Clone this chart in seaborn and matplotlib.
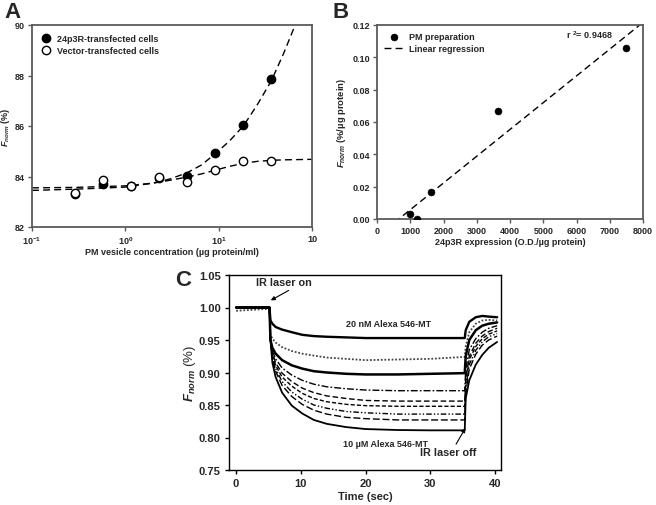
import numpy as np
import pandas as pd
import matplotlib
matplotlib.use("Agg")
import matplotlib.pyplot as plt
import seaborn as sns

# ---------------- data: panel A ----------------
conc = [0.29, 0.575, 1.15, 2.3, 4.6, 9.2, 18.4, 36.8]
f_24p3r = [83.29, 83.72, 83.62, 83.95, 84.02, 84.94, 86.03, 87.85]
f_vector = [83.36, 83.85, 83.62, 83.99, 83.78, 84.24, 84.63, 84.61]
fit24_x = [0.1, 0.3, 1, 2, 3, 4.6, 6.5, 9.2, 13, 18.4, 26, 36.8, 50, 66]
fit24_y = [83.45, 83.5, 83.58, 83.74, 83.9, 84.15, 84.45, 84.9, 85.4, 86.0, 86.85, 87.8, 88.9, 90.0]
fitvec_x = [0.1, 0.3, 1, 2, 3, 4.6, 6.5, 9.2, 13, 18.4, 26, 36.8, 50, 100]
fitvec_y = [83.55, 83.57, 83.63, 83.74, 83.85, 83.98, 84.1, 84.25, 84.4, 84.52, 84.6, 84.64, 84.66, 84.68]
xtickA = [0.1, 1, 10, 100]
xtickA_lab = [r'$\mathbf{10^{-1}}$', r'$\mathbf{10^{0}}$', r'$\mathbf{10^{1}}$', '10']

# ---------------- data: panel B ----------------
expr = [1000, 1210, 1610, 3630, 7480]
f_per_prot = [0.003, 0.000, 0.017, 0.067, 0.106]

# ---------------- data: panel C ----------------
t = [0, 5.15, 5.3, 5.6, 6.1, 7.1, 8.6, 10.2, 12, 14, 17, 20, 25, 30, 35.3,
     35.45, 36, 37, 38, 39, 40.3]
tr_20nM = [1.0, 1.0, 0.98, 0.975, 0.970, 0.966, 0.962, 0.958, 0.956, 0.955, 0.954, 0.953, 0.953, 0.953, 0.953,
           0.965, 0.978, 0.985, 0.987, 0.986, 0.985]
tr_2 = [0.995, 0.998, 0.958, 0.952, 0.946, 0.939, 0.933, 0.929, 0.926, 0.923, 0.921, 0.919, 0.920, 0.921, 0.924,
        0.940, 0.962, 0.975, 0.980, 0.981, 0.980]
tr_3 = [1.0, 1.0, 0.95, 0.938, 0.929, 0.919, 0.911, 0.906, 0.902, 0.900, 0.898, 0.897, 0.897, 0.898, 0.899,
        0.925, 0.950, 0.965, 0.972, 0.975, 0.977]
tr_4 = [1.0, 1.0, 0.95, 0.933, 0.921, 0.907, 0.896, 0.888, 0.882, 0.878, 0.875, 0.873, 0.872, 0.872, 0.872,
        0.905, 0.935, 0.952, 0.962, 0.968, 0.972]
tr_5 = [1.0, 1.0, 0.95, 0.930, 0.915, 0.899, 0.886, 0.876, 0.869, 0.864, 0.860, 0.857, 0.856, 0.856, 0.856,
        0.890, 0.925, 0.945, 0.956, 0.963, 0.968]
tr_6 = [1.0, 1.0, 0.95, 0.927, 0.911, 0.893, 0.879, 0.868, 0.860, 0.855, 0.851, 0.849, 0.848, 0.848, 0.848,
        0.885, 0.920, 0.940, 0.952, 0.959, 0.964]
tr_7 = [1.0, 1.0, 0.95, 0.924, 0.906, 0.886, 0.870, 0.859, 0.850, 0.845, 0.840, 0.838, 0.836, 0.836, 0.836,
        0.875, 0.912, 0.934, 0.947, 0.955, 0.960]
tr_8 = [1.0, 1.0, 0.95, 0.921, 0.902, 0.880, 0.863, 0.851, 0.842, 0.836, 0.831, 0.829, 0.827, 0.827, 0.827,
        0.868, 0.905, 0.928, 0.942, 0.950, 0.956]
tr_10uM = [1.0, 1.0, 0.95, 0.915, 0.893, 0.869, 0.849, 0.837, 0.827, 0.821, 0.816, 0.813, 0.8115, 0.811, 0.811,
           0.860, 0.888, 0.912, 0.927, 0.938, 0.947]

# ---------------- style ----------------
sns.set_theme(style="ticks")
plt.rcParams['font.family'] = ['Liberation Sans', 'DejaVu Sans']
plt.rcParams['font.weight'] = 'bold'
plt.rcParams['mathtext.fontset'] = 'custom'
plt.rcParams['mathtext.rm'] = 'Liberation Sans:bold'
plt.rcParams['mathtext.bf'] = 'Liberation Sans:bold'
plt.rcParams['mathtext.it'] = 'Liberation Sans:italic:bold'

W, H = 656, 506
fig = plt.figure(figsize=(W / 100, H / 100), dpi=100)


def px_axes(l, t_, r, b):
    return fig.add_axes([l / W, 1 - b / H, (r - l) / W, (b - t_) / H])


GRAY = '#5a5a5a'

# ================= Panel A =================
axA = px_axes(32, 26, 312, 228)
sns.lineplot(x=fit24_x, y=fit24_y, ax=axA, color='black', lw=1.0, linestyle=(0, (5, 3)))
sns.lineplot(x=fitvec_x, y=fitvec_y, ax=axA, color='black', lw=1.0, linestyle=(0, (5, 3)))
axA.plot(conc, f_24p3r, 'o', ms=6, mfc='black', mec='black', label='24p3R-transfected cells', zorder=3)
axA.plot(conc, f_vector, 'o', ms=6, mfc='white', mec='black', mew=1.0, label='Vector-transfected cells', zorder=4)
axA.set_xscale('log')
axA.set_xlim(0.1, 100)
axA.set_ylim(82, 90)
axA.set_xticks(xtickA)
axA.set_xticklabels(xtickA_lab)
axA.xaxis.set_minor_locator(matplotlib.ticker.NullLocator())
axA.set_yticks([82, 84, 86, 88, 90])
axA.set_xlabel('PM vesicle concentration (µg protein/ml)', fontsize=6.5, fontweight='bold', labelpad=1)
axA.set_ylabel(r'$F_{norm}$ (%)', fontsize=6.5, fontweight='bold')
axA.yaxis.set_label_coords(-0.072, 0.5)
axA.legend(loc='upper left', bbox_to_anchor=(0.0, 1.0), frameon=False, fontsize=6.5,
           handletextpad=0.6, borderaxespad=0.6, labelspacing=0.35, handlelength=1.2)

# ================= Panel B =================
axB = px_axes(377, 26, 643, 220)
axB.set_xlim(0, 8000)
axB.set_ylim(0, 0.12)
sns.regplot(x=expr, y=f_per_prot, ax=axB, scatter=False, ci=None, truncate=False,
            line_kws=dict(color='black', lw=1.0, linestyle=(0, (5, 3))))
axB.lines[-1].set_label('Linear regression')
sns.scatterplot(x=expr, y=f_per_prot, ax=axB, color='black', s=25, edgecolor='black',
                label='PM preparation', zorder=3)
axB.set_xlim(0, 8000)
axB.set_ylim(0, 0.12)
axB.set_xticks(range(0, 8001, 1000))
axB.set_yticks([0, 0.02, 0.04, 0.06, 0.08, 0.10, 0.12])
axB.yaxis.set_major_formatter(matplotlib.ticker.FormatStrFormatter('%.2f'))
axB.set_xlabel('24p3R expression (O.D./µg protein)', fontsize=6.5, fontweight='bold', labelpad=1.5)
axB.set_ylabel(r'$F_{norm}$ (%/µg protein)', fontsize=6.8, fontweight='bold', labelpad=3)
h, l = axB.get_legend_handles_labels()
order = [l.index('PM preparation'), l.index('Linear regression')]
axB.legend([h[i] for i in order], [l[i] for i in order], loc='upper left', frameon=False,
           fontsize=6.5, handletextpad=0.6, borderaxespad=0.4, labelspacing=0.35, handlelength=2.2)
axB.text(0.80, 0.952, r'r $^2$= 0.9468', transform=axB.transAxes, fontsize=6.5,
         fontweight='bold', ha='center', va='center')

for ax in (axA, axB):
    for s in ax.spines.values():
        s.set_color(GRAY)
        s.set_linewidth(1.3)
    ax.tick_params(direction='out', length=3, width=1, color=GRAY, labelsize=6.5, pad=2)
    for lab in ax.get_xticklabels() + ax.get_yticklabels():
        lab.set_fontweight('bold')

# ================= Panel C =================
axC = px_axes(229, 276, 501, 471)
traces = [tr_20nM, tr_2, tr_3, tr_4, tr_5, tr_6, tr_7, tr_8, tr_10uM]
styles = [('-', 1.7, 'black'),
          ((0, (1, 1)), 1.3, '#444444'),
          ('-', 1.8, 'black'),
          ((0, (5, 1.5, 1.2, 1.5)), 1.0, 'black'),
          ((0, (4, 2)), 1.0, 'black'),
          ((0, (3, 1.5)), 1.0, 'black'),
          ((0, (4, 1.5, 1, 1.5, 1, 1.5)), 1.0, 'black'),
          ((0, (5, 2)), 1.0, 'black'),
          ('-', 1.3, 'black')]
for tr, (ls, lw, col) in zip(traces, styles):
    sns.lineplot(x=t, y=tr, ax=axC, color=col, lw=lw, linestyle=ls)
axC.set_xlim(-1.1, 40.9)
axC.set_ylim(0.75, 1.05)
axC.set_xticks([0, 10, 20, 30, 40])
axC.set_yticks([0.75, 0.80, 0.85, 0.90, 0.95, 1.00, 1.05])
axC.yaxis.set_major_formatter(matplotlib.ticker.FormatStrFormatter('%.2f'))
for s in axC.spines.values():
    s.set_color('black')
    s.set_linewidth(1.0)
axC.tick_params(direction='out', length=3, width=1, color='black', labelsize=8, pad=3)
for lab in axC.get_xticklabels() + axC.get_yticklabels():
    lab.set_fontweight('bold')
axC.set_xlabel('Time (sec)', fontsize=8, fontweight='bold', labelpad=2)
axC.set_ylabel(r'$F_{norm}$ (%)', fontsize=9.5, fontweight='normal', labelpad=0.5)

axC.annotate('IR laser on', xy=(5.35, 1.011), xytext=(3.0, 1.039), fontsize=7.8, fontweight='bold',
             ha='left', va='center',
             arrowprops=dict(arrowstyle='-|>', color='black', lw=0.8, mutation_scale=6,
                             shrinkA=0, shrinkB=0, relpos=(0.7, 0.0)))
axC.annotate('IR laser off', xy=(35.4, 0.8145), xytext=(32.8, 0.777), fontsize=7.8, fontweight='bold',
             ha='center', va='center',
             arrowprops=dict(arrowstyle='-|>', color='black', lw=0.8, mutation_scale=6,
                             shrinkA=0, shrinkB=0, relpos=(0.6, 1.0)))
axC.text(23.5, 0.975, '20 nM Alexa 546-MT', fontsize=6.5, fontweight='bold', ha='center', va='center')
axC.text(23.0, 0.791, '10 µM Alexa 546-MT', fontsize=6.5, fontweight='bold', ha='center', va='center')

# panel letters
fig.text(4 / W, 1 - 12 / H, 'A', fontsize=16, fontweight='bold', ha='left', va='center')
fig.text(333 / W, 1 - 12 / H, 'B', fontsize=16, fontweight='bold', ha='left', va='center')
fig.text(175 / W, 1 - 281 / H, 'C', fontsize=16, fontweight='bold', ha='left', va='center')

fig.savefig('out.png', dpi=100)
